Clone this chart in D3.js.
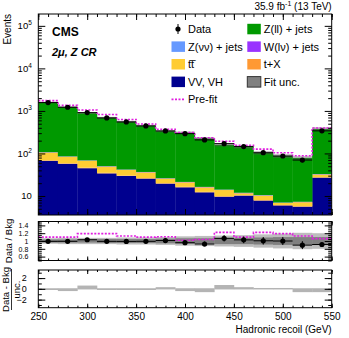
<!DOCTYPE html>
<html>
<head>
<meta charset="utf-8">
<script src="https://cdn.jsdelivr.net/npm/d3@7"></script>
<style>
  body { margin: 0; background: #fff; }
  svg { display: block; font-family: "Liberation Sans", Arial, sans-serif; }
</style>
</head>
<body>
<div id="chart"></div>
<script>
// bin edges of the hadronic recoil (GeV)
const binEdges = [250, 270, 290, 310, 330, 350, 370, 390, 410, 430, 450, 470, 490, 510, 530, 550];

// post-fit stacked backgrounds, events per bin
const vvVh  = [67, 57, 45, 34, 29.5, 25.6, 19.5, 16, 12.2, 9.6, 10.2, 7.8, 6.0, 5.6, 27];
const tX    = [2, 1.6, 1.3, 1, 0.8, 0.7, 0.5, 0.4, 0.3, 0.3, 0.2, 0.2, 0.15, 0.15, 0.6];
const ttbar = [36, 25, 21, 14, 10.7, 9.7, 5.6, 4.6, 3.5, 3.9, 1.2, 2.2, 0.7, 1.4, 4.4];
const wLnu  = [1.5, 1.2, 1, 0.8, 0.6, 0.5, 0.4, 0.3, 0.25, 0.2, 0.2, 0.15, 0.1, 0.1, 0.5];
const zNunu = [0.5, 0.4, 0.3, 0.3, 0.2, 0.2, 0.1, 0.1, 0.1, 0.1, 0.1, 0.1, 0.05, 0.05, 0.2];
const zLl   = [1477, 1145, 815, 640, 515, 411, 308, 284, 209, 145, 129, 93, 80, 71, 341];

// observed data and its stat. error
const dataVals = [1570, 1220, 912, 684, 551, 444, 338, 292, 208, 170, 145, 104, 87, 70, 340];
const dataErr  = [40, 35, 30, 26, 23, 21, 18, 17, 14, 13, 12, 10, 9, 8, 18];

// ratio panel: pre-fit / post-fit, fit unc. and wider band (relative half widths)
const preFitRatio = [1.10, 1.10, 1.19, 1.19, 1.13, 1.10, 1.11, 1.02, 1.04, 1.22, 1.10, 1.22, 1.19, 1.13, 1.06];
const fitUnc      = [0.04, 0.04, 0.04, 0.05, 0.05, 0.05, 0.06, 0.07, 0.07, 0.08, 0.08, 0.09, 0.10, 0.10, 0.10];
const wideUnc     = [0.07, 0.08, 0.08, 0.08, 0.09, 0.09, 0.10, 0.12, 0.13, 0.14, 0.15, 0.17, 0.19, 0.21, 0.20];

// (data - bkg) / unc.
const pullVals = [-0.1, -0.3, 0.5, -0.1, -0.1, -0.1, 0.2, -0.3, -0.5, 0.6, 0.2, 0.05, 0.05, -0.5, -0.5];

const yTicksMain = [10, 100, 1000, 10000, 100000];
const yTicksRatio = [0.6, 0.8, 1, 1.2, 1.4];
const yTicksPull = [-2, 0, 2];
const xTicks = [250, 300, 350, 400, 450, 500, 550];

const stackOrder = [
  {name: "VV, VH", vals: vvVh, color: "#00008f"},
  {name: "t+X", vals: tX, color: "#ff9933"},
  {name: "tt\u0305", vals: ttbar, color: "#ffcc33"},
  {name: "W(lv) + jets", vals: wLnu, color: "#9933ff"},
  {name: "Z(vv) + jets", vals: zNunu, color: "#6699ff"},
  {name: "Z(ll) + jets", vals: zLl, color: "#009900"}
];

const W = 349, H = 338;
const L = 38.3, R = 331.7;
const main = {top: 14, bottom: 215};
const rat = {top: 221.5, bottom: 260.5};
const pul = {top: 270, bottom: 307.7};

const svg = d3.select("#chart").append("svg").attr("width", W).attr("height", H);

const x = d3.scaleLinear().domain([250, 550]).range([L, R]);
const y = d3.scaleLog().domain([3.57, 1.9e5]).range([main.bottom, main.top]);
const yr = d3.scaleLinear().domain([0.5, 1.5]).range([rat.bottom, rat.top]);
const yp = d3.scaleLinear().domain([-3.5, 3.5]).range([pul.bottom, pul.top]);

const bins = dataVals.map(function(d, i) {
  return {lo: binEdges[i], hi: binEdges[i + 1], mid: (binEdges[i] + binEdges[i + 1]) / 2, i: i};
});

// cumulative stack
let cum = bins.map(function() { return 0; });
const layers = stackOrder.map(function(s) {
  const lower = cum.slice();
  cum = cum.map(function(c, i) { return c + s.vals[i]; });
  return {s: s, lower: lower, upper: cum.slice()};
});
const total = cum;

// clip paths
const defs = svg.append("defs");
[["clipMain", main], ["clipRat", rat], ["clipPul", pul]].forEach(function(c) {
  defs.append("clipPath").attr("id", c[0]).append("rect")
    .attr("x", L).attr("y", c[1].top).attr("width", R - L).attr("height", c[1].bottom - c[1].top);
});

// ---------- main panel ----------
const gMain = svg.append("g").attr("clip-path", "url(#clipMain)");

layers.forEach(function(l) {
  gMain.selectAll(null).data(bins).enter().append("rect")
    .attr("x", function(b) { return x(b.lo); })
    .attr("width", function(b) { return x(b.hi) - x(b.lo) + 0.3; })
    .attr("y", function(b) { return y(l.upper[b.i]); })
    .attr("height", function(b) {
      const lo = l.lower[b.i] > 0 ? y(l.lower[b.i]) : main.bottom + 5;
      return Math.max(0, lo - y(l.upper[b.i]));
    })
    .attr("fill", l.s.color);
});

// fit unc. band around total
gMain.selectAll(null).data(bins).enter().append("rect")
  .attr("x", function(b) { return x(b.lo); })
  .attr("width", function(b) { return x(b.hi) - x(b.lo); })
  .attr("y", function(b) { return y(total[b.i] * (1 + fitUnc[b.i])); })
  .attr("height", function(b) { return y(total[b.i] * (1 - fitUnc[b.i])) - y(total[b.i] * (1 + fitUnc[b.i])); })
  .attr("fill", "#555").attr("fill-opacity", 0.45);

// pre-fit step line
function stepPath(vals, yS) {
  let p = "";
  bins.forEach(function(b, i) {
    p += (i === 0 ? "M" : "L") + x(b.lo) + "," + yS(vals[i]) + "L" + x(b.hi) + "," + yS(vals[i]);
  });
  return p;
}
gMain.append("path")
  .attr("d", stepPath(total.map(function(t, i) { return t * preFitRatio[i]; }), y))
  .attr("fill", "none").attr("stroke", "#e01ee0").attr("stroke-width", 1.6)
  .attr("stroke-dasharray", "2,1.5");

// data points
const gData = svg.append("g");
gData.selectAll(null).data(bins).enter().append("line")
  .attr("x1", function(b) { return x(b.lo); }).attr("x2", function(b) { return x(b.hi); })
  .attr("y1", function(b) { return y(dataVals[b.i]); }).attr("y2", function(b) { return y(dataVals[b.i]); })
  .attr("stroke", "#000").attr("stroke-width", 1);
gData.selectAll(null).data(bins).enter().append("line")
  .attr("x1", function(b) { return x(b.mid); }).attr("x2", function(b) { return x(b.mid); })
  .attr("y1", function(b) { return y(dataVals[b.i] - dataErr[b.i]); })
  .attr("y2", function(b) { return y(dataVals[b.i] + dataErr[b.i]); })
  .attr("stroke", "#000").attr("stroke-width", 1);
gData.selectAll(null).data(bins).enter().append("circle")
  .attr("cx", function(b) { return x(b.mid); })
  .attr("cy", function(b) { return y(dataVals[b.i]); })
  .attr("r", 2.6).attr("fill", "#000");

// ---------- ratio panel ----------
const gRat = svg.append("g").attr("clip-path", "url(#clipRat)");
gRat.selectAll(null).data(bins).enter().append("rect")
  .attr("x", function(b) { return x(b.lo); })
  .attr("width", function(b) { return x(b.hi) - x(b.lo) + 0.3; })
  .attr("y", function(b) { return yr(1 + wideUnc[b.i]); })
  .attr("height", function(b) { return yr(1 - wideUnc[b.i]) - yr(1 + wideUnc[b.i]); })
  .attr("fill", "#bdbdbd");
gRat.selectAll(null).data(bins).enter().append("rect")
  .attr("x", function(b) { return x(b.lo); })
  .attr("width", function(b) { return x(b.hi) - x(b.lo) + 0.3; })
  .attr("y", function(b) { return yr(1 + fitUnc[b.i]); })
  .attr("height", function(b) { return yr(1 - fitUnc[b.i]) - yr(1 + fitUnc[b.i]); })
  .attr("fill", "#808080");
gRat.append("path")
  .attr("d", stepPath(preFitRatio, yr))
  .attr("fill", "none").attr("stroke", "#e01ee0").attr("stroke-width", 1.6)
  .attr("stroke-dasharray", "2,1.5");
gRat.selectAll(null).data(bins).enter().append("line")
  .attr("x1", function(b) { return x(b.lo); }).attr("x2", function(b) { return x(b.hi); })
  .attr("y1", function(b) { return yr(dataVals[b.i] / total[b.i]); })
  .attr("y2", function(b) { return yr(dataVals[b.i] / total[b.i]); })
  .attr("stroke", "#000").attr("stroke-width", 1);
gRat.selectAll(null).data(bins).enter().append("line")
  .attr("x1", function(b) { return x(b.mid); }).attr("x2", function(b) { return x(b.mid); })
  .attr("y1", function(b) { return yr((dataVals[b.i] - dataErr[b.i]) / total[b.i]); })
  .attr("y2", function(b) { return yr((dataVals[b.i] + dataErr[b.i]) / total[b.i]); })
  .attr("stroke", "#000").attr("stroke-width", 1);
gRat.selectAll(null).data(bins).enter().append("circle")
  .attr("cx", function(b) { return x(b.mid); })
  .attr("cy", function(b) { return yr(dataVals[b.i] / total[b.i]); })
  .attr("r", 2.6).attr("fill", "#000");

// ---------- pull panel ----------
const gPul = svg.append("g").attr("clip-path", "url(#clipPul)");
gPul.selectAll(null).data(bins).enter().append("rect")
  .attr("x", function(b) { return x(b.lo); })
  .attr("width", function(b) { return x(b.hi) - x(b.lo) + 0.3; })
  .attr("y", function(b) { return Math.min(yp(pullVals[b.i]), yp(0)) - 0.6; })
  .attr("height", function(b) { return Math.abs(yp(pullVals[b.i]) - yp(0)) + 1.2; })
  .attr("fill", "#b4b4b4");

// ---------- axes and frames ----------
function frame(p, yS, majors, minors, fmt, showX, pad, fs) {
  const g = svg.append("g");
  g.append("rect").attr("x", L).attr("y", p.top).attr("width", R - L).attr("height", p.bottom - p.top)
    .attr("fill", "none").attr("stroke", "#000").attr("stroke-width", 1);

  const axL = d3.axisLeft(yS).tickValues(majors).tickSize(-7).tickPadding(pad).tickFormat(fmt);
  g.append("g").attr("class", "ylab").attr("transform", "translate(" + L + ",0)").call(axL)
    .selectAll("text").attr("font-size", fs);
  const axLm = d3.axisLeft(yS).tickValues(minors).tickSize(-3.5).tickFormat("");
  g.append("g").attr("transform", "translate(" + L + ",0)").call(axLm);
  const axR = d3.axisRight(yS).tickValues(majors).tickSize(-7).tickFormat("");
  g.append("g").attr("transform", "translate(" + R + ",0)").call(axR);
  const axRm = d3.axisRight(yS).tickValues(minors).tickSize(-3.5).tickFormat("");
  g.append("g").attr("transform", "translate(" + R + ",0)").call(axRm);

  const xMin = d3.range(250, 551, 10);
  const tickLen = (p.bottom - p.top) > 100 ? 6 : 4;
  g.append("g").attr("transform", "translate(0," + p.bottom + ")")
    .call(d3.axisBottom(x).tickValues(xTicks).tickSize(-tickLen).tickPadding(5).tickFormat(showX ? d3.format("d") : ""))
    .selectAll("text").attr("font-size", 10);
  g.append("g").attr("transform", "translate(0," + p.bottom + ")")
    .call(d3.axisBottom(x).tickValues(xMin).tickSize(-tickLen / 2).tickFormat(""));
  g.append("g").attr("transform", "translate(0," + p.top + ")")
    .call(d3.axisTop(x).tickValues(xTicks).tickSize(-tickLen).tickFormat(""));
  g.append("g").attr("transform", "translate(0," + p.top + ")")
    .call(d3.axisTop(x).tickValues(xMin).tickSize(-tickLen / 2).tickFormat(""));

  g.selectAll(".domain").remove();
  g.selectAll("text").attr("fill", "#000")
    .attr("font-family", "Liberation Sans, Arial, sans-serif");
  return g;
}

const mainMinors = [];
[1, 10, 100, 1000, 10000, 100000].forEach(function(d) {
  for (let k = 2; k <= 9; k++) { if (d * k > 3.57 && d * k < 1.9e5) mainMinors.push(d * k); }
});
frame(main, y, yTicksMain, mainMinors, function() { return ""; }, false, 6.5, 10);
// exponent labels for the log axis
yTicksMain.forEach(function(v) {
  const t = svg.append("text").attr("x", L - 6.5).attr("y", y(v) + 3.5)
    .attr("text-anchor", "end").attr("font-size", 9.5);
  const e = Math.round(Math.log10(v));
  if (e === 1) { t.text("10"); }
  else {
    t.append("tspan").text("10");
    t.append("tspan").attr("dy", -4).attr("font-size", 6.5).text(e);
  }
});

frame(rat, yr, yTicksRatio, d3.range(0.5, 1.501, 0.05).map(function(v) { return +v.toFixed(2); }),
  function(v) { return v === 1 ? "1" : d3.format(".1f")(v); }, false, 10, 7);
frame(pul, yp, yTicksPull, d3.range(-3, 3.01, 1), d3.format("d"), true, 11.5, 9);

// ---------- titles ----------
svg.append("text").attr("x", R).attr("y", 9.5)
  .attr("text-anchor", "end").attr("font-size", 10)
  .call(function(t) {
    t.append("tspan").text("35.9 fb");
    t.append("tspan").attr("dy", -3.5).attr("font-size", 7).text("-1");
    t.append("tspan").attr("dy", 3.5).text(" (13 TeV)");
  });

svg.append("text").attr("transform", "translate(10.5,14) rotate(-90)")
  .attr("text-anchor", "end").attr("font-size", 10).text("Events");
svg.append("text").attr("transform", "translate(12,241) rotate(-90)")
  .attr("text-anchor", "middle").attr("font-size", 9.5).text("Data / Bkg");
svg.append("text").attr("transform", "translate(9,289.5) rotate(-90)")
  .attr("text-anchor", "middle").attr("font-size", 9.5).text("Data - Bkg");
svg.append("line").attr("x1", 11.5).attr("x2", 11.5).attr("y1", 269).attr("y2", 310)
  .attr("stroke", "#000").attr("stroke-width", 0.8);
svg.append("text").attr("transform", "translate(20,289.5) rotate(-90)")
  .attr("text-anchor", "middle").attr("font-size", 9.5).text("unc.");

svg.append("text").attr("x", R).attr("y", 332.5)
  .attr("text-anchor", "end").attr("font-size", 10).text("Hadronic recoil (GeV)");

svg.append("text").attr("x", 52).attr("y", 36)
  .attr("font-size", 12).attr("font-weight", "bold").text("CMS");
svg.append("text").attr("x", 52).attr("y", 56)
  .attr("font-size", 11).attr("font-style", "italic").attr("font-weight", "bold")
  .text("2\u03bc, Z CR");

// ---------- legend ----------
const legend = [
  {col: 0, row: 0, label: "Data", type: "data"},
  {col: 1, row: 0, label: "Z(ll) + jets", type: "box", color: "#009900"},
  {col: 0, row: 1, label: "Z(\u03bd\u03bd) + jets", type: "box", color: "#6699ff"},
  {col: 1, row: 1, label: "W(l\u03bd) + jets", type: "box", color: "#9933ff"},
  {col: 0, row: 2, label: "tt\u0305", type: "box", color: "#ffcc33"},
  {col: 1, row: 2, label: "t+X", type: "box", color: "#ff9933"},
  {col: 0, row: 3, label: "VV, VH", type: "box", color: "#00008f"},
  {col: 1, row: 3, label: "Fit unc.", type: "unc", color: "#808080"},
  {col: 0, row: 4, label: "Pre-fit", type: "line"}
];
const legX = [171.5, 247.3], legY0 = 29, legDy = 17.6;
const gLeg = svg.append("g");
legend.forEach(function(d) {
  const cx = legX[d.col], cy = legY0 + d.row * legDy;
  if (d.type === "box" || d.type === "unc") {
    gLeg.append("rect").attr("x", cx).attr("y", cy - 5.2).attr("width", 13.5).attr("height", 10.5)
      .attr("fill", d.color)
      .attr("stroke", d.type === "unc" ? "#333" : "none").attr("stroke-width", 1);
  } else if (d.type === "data") {
    gLeg.append("line").attr("x1", cx + 6.5).attr("x2", cx + 6.5).attr("y1", cy - 5).attr("y2", cy + 5)
      .attr("stroke", "#000").attr("stroke-width", 1);
    gLeg.append("circle").attr("cx", cx + 6.5).attr("cy", cy).attr("r", 2.6).attr("fill", "#000");
  } else {
    gLeg.append("line").attr("x1", cx).attr("x2", cx + 13.5).attr("y1", cy).attr("y2", cy)
      .attr("stroke", "#e01ee0").attr("stroke-width", 1.6).attr("stroke-dasharray", "2,1.5");
  }
  gLeg.append("text").attr("x", cx + 16.5).attr("y", cy + 4)
    .attr("font-size", 11).text(d.label);
});
</script>
</body>
</html>
